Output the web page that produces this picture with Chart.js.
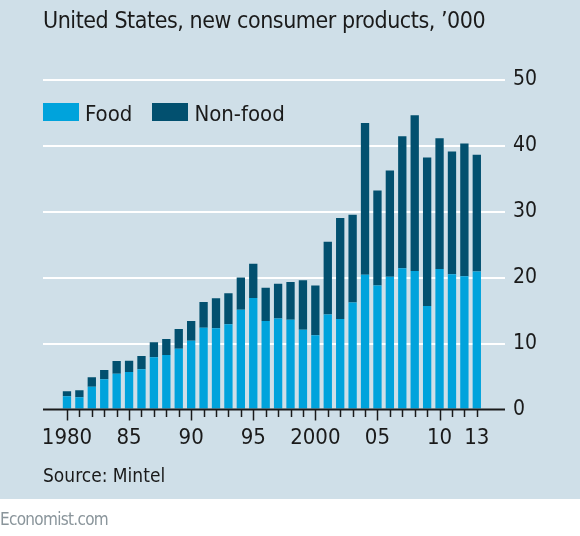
<!DOCTYPE html>
<html><head><meta charset="utf-8">
<script src="https://cdn.jsdelivr.net/npm/chart.js@4/dist/chart.umd.min.js"></script>
<style>
html,body{margin:0;padding:0;width:580px;height:536px;background:#fff;overflow:hidden;}
#panel{position:absolute;left:0;top:0;width:580px;height:499px;background:#cfdfe8;}
#wrap{position:absolute;left:0;top:0;width:580px;height:499px;}
.t{position:absolute;white-space:nowrap;font-family:"DejaVu Sans Condensed","DejaVu Sans",sans-serif;color:#1a1a1a;line-height:1;}
#title{left:43px;top:9px;font-size:23px;letter-spacing:-0.45px;}
#legend{left:43px;top:103px;font-size:22px;}
.lg{display:inline-block;vertical-align:top;}
.sw{display:inline-block;width:36px;height:18px;vertical-align:top;margin-right:6px;}
#source{left:43px;top:466px;font-size:19px;}
#eco{left:0;top:510.5px;font-size:17px;letter-spacing:-0.7px;color:#8a959b;}
</style></head>
<body>
<div id="panel"></div>
<div id="wrap"><canvas id="c" width="580" height="499"></canvas></div>
<div class="t" id="title">United States, new consumer products, ’000</div>
<div class="t" id="legend"></div>
<div class="t" id="source">Source: Mintel</div>
<div class="t" id="eco">Economist.com</div>
<script>
const years = [1980,1981,1982,1983,1984,1985,1986,1987,1988,1989,1990,1991,1992,1993,1994,1995,1996,1997,1998,1999,2000,2001,2002,2003,2004,2005,2006,2007,2008,2009,2010,2011,2012,2013];
const food = [2.0,1.85,3.45,4.6,5.4,5.7,6.1,7.9,8.25,9.2,10.4,12.4,12.3,12.9,15.1,16.9,13.4,13.8,13.6,12.1,11.25,14.4,13.7,16.2,20.4,18.8,20.1,21.4,21.0,15.7,21.3,20.5,20.2,20.9];
const total = [2.75,2.9,4.9,6.0,7.35,7.4,8.1,10.2,10.7,12.2,13.4,16.3,16.85,17.6,20.0,22.1,18.45,19.05,19.3,19.6,18.8,25.4,29.0,29.5,43.4,33.2,36.2,41.4,44.6,38.2,41.1,39.1,40.3,38.6];
const nonFood = total.map((t,i)=>+(t-food[i]).toFixed(2));
const tickYears = [1980,1985,1990,1995,2000,2005,2010,2013];
const tickLabels = ['1980','85','90','95','2000','05','10','13'];
const yTicks = [0,10,20,30,40,50];
const seriesNames = ['Food','Non-food'];
const colors = ['#00a3dc','#02506f'];

const FONT = '"DejaVu Sans Condensed","DejaVu Sans",sans-serif';

document.getElementById('legend').innerHTML = seriesNames.map((n,i)=>
  `<span class="lg" style="margin-right:${i===0?20:0}px"><span class="sw" style="background:${colors[i]}"></span>${n}</span>`).join('');

const axisPlugin = {
  id:'axisPlugin',
  afterDatasetsDraw(chart){
    const {ctx, chartArea, scales:{x,y}} = chart;
    const y0 = y.getPixelForValue(0);
    ctx.save();
    ctx.strokeStyle = '#1a1a1a';
    ctx.lineWidth = 2;
    ctx.beginPath();
    ctx.moveTo(chartArea.left, y0);
    ctx.lineTo(chartArea.right, y0);
    ctx.stroke();
    ctx.lineWidth = 1.5;
    years.forEach(yr=>{
      const px = Math.round(x.getPixelForValue(yr))+0.5;
      const len = (yr % 5 === 0) ? 11 : 7.5;
      ctx.beginPath();
      ctx.moveTo(px, y0);
      ctx.lineTo(px, y0+len);
      ctx.stroke();
    });
    ctx.restore();
  }
};

new Chart(document.getElementById('c'), {
  type:'bar',
  data:{
    datasets:[
      {label:seriesNames[0], data:years.map((yr,i)=>({x:yr,y:food[i]})), backgroundColor:colors[0], borderWidth:0},
      {label:seriesNames[1], data:years.map((yr,i)=>({x:yr,y:nonFood[i]})), backgroundColor:colors[1], borderWidth:0}
    ]
  },
  options:{
    responsive:false,
    animation:false,
    devicePixelRatio:1,
    layout:{padding:{left:43,top:79.5,right:0,bottom:0}},
    plugins:{legend:{display:false},tooltip:{enabled:false}},
    datasets:{bar:{barPercentage:1,categoryPercentage:0.67}},
    scales:{
      x:{
        type:'linear',
        stacked:true,
        offset:false,
        min:1978.07,
        max:2015.27,
        afterBuildTicks:s=>{s.ticks = tickYears.map(v=>({value:v}));},
        afterFit:s=>{s.height = 89.5;},
        grid:{display:false,offset:false},
        border:{display:false},
        ticks:{
          autoSkip:false,
          maxRotation:0,
          padding:8,
          color:'#1a1a1a',
          font:{family:FONT,size:22},
          callback:(v)=>{const k=tickYears.indexOf(v);return k>=0?tickLabels[k]:'';}
        }
      },
      y:{
        position:'right',
        stacked:true,
        min:0,max:50,
        afterBuildTicks:s=>{s.ticks = yTicks.map(v=>({value:v}));},
        afterFit:s=>{s.width = 75;},
        grid:{color:(c)=>c.tick && c.tick.value===0?'rgba(0,0,0,0)':'#ffffff',lineWidth:2,drawTicks:false},
        border:{display:false},
        ticks:{padding:8,color:'#1a1a1a',font:{family:FONT,size:21}}
      }
    }
  },
  plugins:[axisPlugin]
});
</script>
</body></html>
